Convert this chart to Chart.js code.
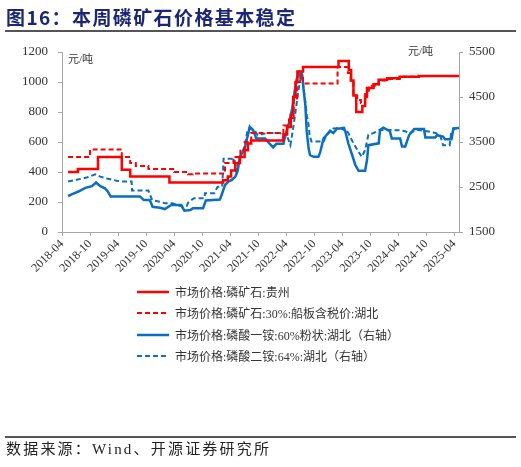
<!DOCTYPE html>
<html>
<head>
<meta charset="utf-8">
<script src="https://cdn.jsdelivr.net/npm/chart.js@4/dist/chart.umd.min.js"></script>
<style>
  body { margin: 0; background: #fff; }
  #wrap { position: relative; width: 521px; height: 467px; overflow: hidden; font-family: "Liberation Serif", "Noto Sans CJK SC", serif; }
  #chart { position: absolute; left: 0; top: 0; }
  .title { position: absolute; left: 6px; top: 3px; font-size: 19px; font-weight: bold; color: #1c2677; letter-spacing: 1.4px; white-space: nowrap; font-family: "Noto Sans CJK SC", sans-serif; }
  .rule { position: absolute; left: 5px; width: 511px; background: #555; }
  .unit { position: absolute; font-size: 11px; color: #333; }
  .legend { position: absolute; left: 137px; top: 281px; font-size: 12px; color: #333; }
  .legend div { height: 21.5px; display: flex; align-items: center; white-space: nowrap; }
  .legend svg { margin-right: 6px; }
  .foot { position: absolute; left: 6px; top: 437px; font-size: 15px; color: #222; letter-spacing: 2.2px; white-space: nowrap; }
</style>
</head>
<body>
<div id="wrap">
  <canvas id="chart" width="521" height="467"></canvas>
  <div class="title">图16：本周磷矿石价格基本稳定</div>
  <div class="rule" style="top:30px;height:2px;"></div>
  <div class="unit" style="left:68px;top:50px;">元/吨</div>
  <div class="unit" style="left:408px;top:42px;">元/吨</div>
  <div class="legend" id="legend"></div>
  <div class="rule" style="top:436px;height:1.5px;"></div>
  <div class="foot">数据来源：Wind、开源证券研究所</div>
</div>
<script>
// x 轴：自 2018-04 起的月份数
const tickLabels = ['2018-04', '2018-10', '2019-04', '2019-10', '2020-04', '2020-10', '2021-04', '2021-10',
  '2022-04', '2022-10', '2023-04', '2023-10', '2024-04', '2024-10', '2025-04'];

const seriesNames = [
  '市场价格:磷矿石:贵州',
  '市场价格:磷矿石:30%:船板含税价:湖北',
  '市场价格:磷酸一铵:60%粉状:湖北（右轴）',
  '市场价格:磷酸二铵:64%:湖北（右轴）',
];

// 磷矿石:贵州 (左轴, 阶梯)
const gzX = [1.3, 3.4, 7.7, 12.8, 14.6, 23, 34.5, 35.5, 36.2, 37.1, 38.1, 39.1, 39.8, 40.5, 47.4, 48.2, 49.0,
  49.5, 50.0, 50.4, 51.6, 59.2, 61.4, 61.9, 62.4, 63.0, 64.3, 64.9, 65.3, 66.7, 67.8, 69.6, 72.3, 76.4, 85];
const gzY = [400, 420, 500, 415, 370, 330, 345, 370, 410, 460, 500, 545, 590, 610, 650, 700, 780,
  900, 1000, 1070, 1100, 1140, 1080, 1010, 910, 800, 840, 900, 960, 985, 1015, 1025, 1035, 1040, 1040];

// 磷矿石:30%:湖北 (左轴, 阶梯)
const hbX = [1.3, 6, 12.8, 14.6, 15.8, 18.5, 24, 27, 28, 34.9, 36.7, 38.2, 39.1, 40.5, 47.4, 48.6, 49.6,
  50.3, 51.0, 51.6, 59.0, 61.2, 61.8, 62.4, 63.2, 64.0, 64.9, 65.7, 67.8, 69.6, 72.3, 76.4, 85];
const hbY = [500, 550, 500, 460, 440, 420, 400, 385, 390, 460, 500, 550, 600, 660, 710, 760, 890,
  1000, 1045, 990, 1100, 1060, 1000, 910, 880, 860, 920, 975, 1010, 1020, 1035, 1040, 1040];

// 磷酸一铵:60%粉状:湖北 (右轴)
const mapX = [1.3, 2.2, 3.5, 5.0, 6.4, 7.3, 8.2, 9.2, 9.8, 10.4, 16.7, 17.5, 18.8, 19.4, 21.0, 22.0, 23.4,
  25.5, 26.2, 27.5, 28.0, 30.2, 30.8, 33.8, 34.3, 34.9, 35.6, 36.3, 37.1, 37.6, 38.1, 39.1, 39.8, 40.2,
  40.9, 41.6, 43.5, 44.3, 45.2, 45.9, 47.4, 48.1, 48.5, 49.3, 49.8, 50.3, 50.9, 51.4, 51.7, 52.1, 52.4,
  52.8, 53.1, 53.9, 54.9, 55.3, 56.0, 56.7, 57.4, 58.1, 58.9, 59.9, 60.6, 61.3, 62.0, 62.8, 63.5, 64.9,
  65.3, 65.6, 67.8, 68.1, 68.8, 70.2, 70.6, 72.4, 72.8, 73.5, 74.3, 75.4, 77.5, 77.8, 79.9, 80.3, 81.6,
  82.0, 83.4, 83.8, 85];
const mapY = [2300, 2340, 2400, 2480, 2520, 2600, 2520, 2470, 2400, 2290, 2290, 2210, 2210, 2060, 2040, 2010, 2100,
  2100, 1975, 1990, 2030, 2030, 2200, 2220, 2360, 2540, 2620, 2650, 2730, 2850, 3170, 3360, 3650, 3840,
  3770, 3580, 3580, 3480, 3380, 3460, 3460, 3760, 3880, 4250, 4620, 4920, 5060, 5000, 4690, 4320, 3730,
  3360, 3210, 3170, 3170, 3280, 3580, 3660, 3750, 3700, 3800, 3800, 3760, 3470, 3250, 2990, 2860, 2860,
  3100, 3430, 3470, 3770, 3820, 3740, 3580, 3580, 3400, 3400, 3650, 3790, 3790, 3600, 3600, 3650, 3620,
  3560, 3560, 3800, 3810];

// 磷酸二铵:64%:湖北 (右轴)
const dapX = [1.3, 3.1, 5.3, 7.1, 8.2, 9.6, 11.7, 13.2, 14.9, 15.0, 18.5, 19.3, 21.0, 22.0, 23.6, 25.3, 26.7,
  27.1, 28.3, 30.5, 30.6, 32.6, 33.3, 34.3, 34.6, 36.9, 37.3, 38.1, 39.1, 39.8, 41.2, 41.9, 43.9, 46.7,
  47.4, 48.1, 48.9, 49.6, 50.3, 50.9, 51.4, 51.7, 52.1, 52.4, 52.8, 53.0, 53.4, 56.0, 56.7, 57.4, 58.1,
  60.4, 61.3, 62.4, 63.5, 64.2, 64.9, 65.6, 66.7, 68.1, 72.4, 73.5, 74.3, 76.0, 78.1, 80.0, 81.0, 81.6,
  83.0, 83.3, 84.0, 85];
const dapY = [2620, 2660, 2710, 2780, 2730, 2690, 2640, 2620, 2620, 2420, 2420, 2210, 2170, 2140, 2140, 2080, 2080,
  2170, 2250, 2250, 2360, 2360, 2500, 2510, 3130, 3130, 2850, 3170, 3400, 3800, 3770, 3650, 3700, 3700,
  3600, 3660, 3430, 3880, 4400, 4840, 5000, 4700, 4400, 4100, 3880, 3660, 3510, 3510, 3660, 3730, 3800,
  3820, 3700, 3470, 3280, 3170, 3320, 3660, 3700, 3770, 3760, 3740, 3690, 3770, 3740, 3700, 3640, 3430,
  3430, 3690, 3800, 3810];

const RED = '#ff0000';
const BLUE = '#0a6fc2';

function pts(xs, ys) {
  return xs.map((x, i) => ({ x: x, y: ys[i] }));
}

const datasets = [
  { label: seriesNames[0], data: pts(gzX, gzY), borderColor: RED, borderWidth: 2.5, stepped: true, yAxisID: 'yL' },
  { label: seriesNames[1], data: pts(hbX, hbY), borderColor: RED, borderWidth: 2, borderDash: [5, 3], stepped: true, yAxisID: 'yL' },
  { label: seriesNames[2], data: pts(mapX, mapY), borderColor: BLUE, borderWidth: 2.5, yAxisID: 'yR' },
  { label: seriesNames[3], data: pts(dapX, dapY), borderColor: BLUE, borderWidth: 2, borderDash: [5, 3], yAxisID: 'yR' },
];

const axisColor = '#a6a6a6';
const tickFont = { family: 'Liberation Serif', size: 13 };

new Chart(document.getElementById('chart'), {
  type: 'line',
  data: { datasets: datasets },
  options: {
    responsive: false,
    animation: false,
    layout: { padding: { top: 52, left: 0, right: 0, bottom: 0 } },
    elements: { point: { radius: 0 }, line: { tension: 0, fill: false } },
    plugins: { legend: { display: false }, tooltip: { enabled: false } },
    scales: {
      x: {
        type: 'linear',
        min: 0,
        max: 85,
        afterBuildTicks: (s) => { s.ticks = tickLabels.map((t, i) => ({ value: i * 6 })); },
        afterFit: (s) => { s.height = 235; },
        grid: { drawOnChartArea: false, tickLength: 4, color: axisColor },
        border: { color: axisColor },
        ticks: {
          autoSkip: false,
          minRotation: 45,
          maxRotation: 45,
          padding: 1,
          color: '#333',
          font: { family: 'Liberation Serif', size: 12 },
          callback: (v) => tickLabels[Math.round(v / 6)],
        },
      },
      yL: {
        position: 'left',
        min: 0,
        max: 1200,
        afterFit: (s) => { s.width = 62; },
        grid: { drawOnChartArea: false, tickLength: 4, color: axisColor },
        border: { color: axisColor },
        ticks: { stepSize: 200, padding: 10, color: '#333', font: tickFont, callback: (v) => String(v) },
      },
      yR: {
        position: 'right',
        min: 1500,
        max: 5500,
        afterFit: (s) => { s.width = 62; },
        grid: { drawOnChartArea: false, tickLength: 4, color: axisColor },
        border: { color: axisColor },
        ticks: { stepSize: 1000, padding: 6, color: '#333', font: tickFont, callback: (v) => String(v) },
      },
    },
  },
});

// 图例
const legendEl = document.getElementById('legend');
datasets.forEach((d) => {
  const row = document.createElement('div');
  const dash = d.borderDash ? 'stroke-dasharray="5,3"' : '';
  row.innerHTML = '<svg width="32" height="6"><line x1="0" y1="3" x2="32" y2="3" stroke="' + d.borderColor +
    '" stroke-width="' + d.borderWidth + '" ' + dash + '/></svg><span>' + d.label + '</span>';
  legendEl.appendChild(row);
});
</script>
</body>
</html>
